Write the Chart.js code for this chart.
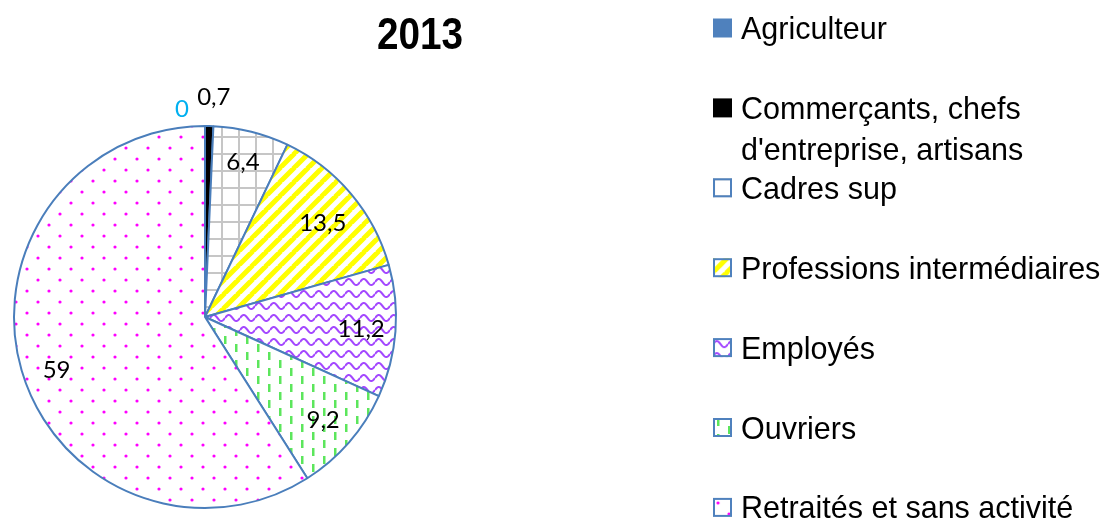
<!DOCTYPE html>
<html><head><meta charset="utf-8">
<script src="https://cdn.jsdelivr.net/npm/chart.js@4.4.0/dist/chart.umd.min.js"></script>
<style>html,body{margin:0;padding:0;background:#fff;}#wrap{width:1106px;height:521px;position:relative;}</style>
</head><body><div id="wrap"><canvas id="c" width="1106" height="521"></canvas></div>
<script>
const chartTitle = '2013';
const categories = ['Agriculteur', ['Commerçants, chefs', "d'entreprise, artisans"], 'Cadres sup', 'Professions intermédiaires', 'Employés', 'Ouvriers', 'Retraités et sans activité'];
const values = [0, 0.7, 6.4, 13.5, 11.2, 9.2, 59];

function tile(w, h, draw) {
  const c = document.createElement('canvas'); c.width = w; c.height = h;
  const x = c.getContext('2d'); x.fillStyle = '#fff'; x.fillRect(0, 0, w, h); draw(x, w, h); return c;
}
const tmp = document.createElement('canvas').getContext('2d');
const tiles = [
  null, null,
  tile(17, 17, (x) => { x.fillStyle = '#C6C6C6'; x.fillRect(0, 0, 2, 17); x.fillRect(0, 0, 17, 2); }),
  tile(14, 14, (x, P) => { x.strokeStyle = '#FFFF00'; x.lineWidth = 5; x.beginPath();
    for (const c of [0, P, 2 * P]) { x.moveTo(c + 1, -1); x.lineTo(c - P - 1, P + 1); } x.stroke(); }),
  tile(15, 12, (x, w) => { x.strokeStyle = '#A347FF'; x.lineWidth = 2; x.beginPath();
    for (let i = 0; i <= w; i += 0.5) { const y = 6 - 3 * Math.sin(2 * Math.PI * i / w); if (i === 0) x.moveTo(i, y); else x.lineTo(i, y); } x.stroke(); }),
  tile(22, 16, (x) => { x.fillStyle = '#5CE65C'; x.fillRect(4, 0, 2.5, 8); x.fillRect(15, 8, 2.5, 8); }),
  tile(22, 22, (x) => { x.fillStyle = '#FF00FF'; x.beginPath(); x.arc(5, 5, 1.6, 0, 7); x.arc(16, 16, 1.6, 0, 7); x.fill(); })
];
const solid = ['#4F81BD', '#000000'];
const fills = tiles.map((t, i) => t ? tmp.createPattern(t, 'repeat') : solid[i]);

const sliceLabels = {
  id: 'sliceLabels',
  afterDatasetsDraw(chart, args, o) {
    const ctx = chart.ctx, meta = chart.getDatasetMeta(0), data = chart.data.datasets[0].data;
    ctx.save(); ctx.font = o.font; ctx.textAlign = 'center'; ctx.textBaseline = 'middle';
    meta.data.forEach((arc, i) => {
      const v = data[i];
      const p = arc.getProps(['x', 'y', 'startAngle', 'endAngle', 'outerRadius'], true);
      const mid = (p.startAngle + p.endAngle) / 2;
      const r = p.outerRadius * (v < 1 ? o.outside : o.inside);
      let lx = p.x + Math.cos(mid) * r, ly = p.y + Math.sin(mid) * r;
      const n = o.nudge[i]; if (n) { lx += n[0]; ly += n[1]; }
      ctx.fillStyle = o.colors[i] || '#000';
      ctx.fillText(String(v).replace('.', ','), lx, ly);
    });
    ctx.restore();
  }
};

const deco = {
  id: 'deco',
  afterDraw(chart, args, o) {
    const ctx = chart.ctx;
    ctx.save();
    ctx.fillStyle = '#000'; ctx.textBaseline = 'alphabetic';
    ctx.font = o.titleFont; ctx.textAlign = 'center';
    ctx.translate(o.titleX, o.titleY); ctx.scale(o.titleScale, 1); ctx.fillText(chartTitle, 0, 0);
    ctx.restore();
    ctx.save();
    ctx.font = o.legendFont; ctx.textAlign = 'left'; ctx.textBaseline = 'alphabetic';
    chart.data.labels.forEach((lab, i) => {
      const base = o.legendTop + i * o.legendStep;
      const by = base - o.capHalf - o.box / 2;
      const fill = chart.data.datasets[0].backgroundColor[i];
      if (typeof fill === 'string') { ctx.fillStyle = fill; ctx.fillRect(o.boxX, by, o.box, o.box); }
      else {
        ctx.save(); ctx.translate(o.boxX, by); ctx.fillStyle = fill; ctx.fillRect(0, 0, o.box, o.box); ctx.restore();
        ctx.strokeStyle = '#4F81BD'; ctx.lineWidth = 2; ctx.strokeRect(o.boxX + 1, by + 1, o.box - 2, o.box - 2);
      }
      ctx.fillStyle = '#000';
      const lines = Array.isArray(lab) ? lab : [lab];
      lines.forEach((t, k) => ctx.fillText(t, o.textX, base + k * o.lineH));
    });
    ctx.restore();
  }
};

new Chart(document.getElementById('c'), {
  type: 'pie',
  data: { labels: categories, datasets: [{ data: values, backgroundColor: fills, borderColor: '#4A7EBB', borderWidth: 2 }] },
  options: {
    responsive: false, animation: false, devicePixelRatio: 1,
    layout: { padding: { left: 13, right: 709, top: 125, bottom: 12 } },
    plugins: {
      legend: { display: false }, tooltip: { enabled: false }, title: { display: false },
      sliceLabels: { font: '24px Lato, "Open Sans", sans-serif', inside: 0.82, outside: 1.15,
        nudge: { 0: [-23, 12], 1: [4, 0], 2: [0, -3], 3: [-2, 7], 6: [2, 10] }, colors: { 0: '#00B0F0' } },
      deco: { titleFont: 'bold 45px "Liberation Sans", Arial, sans-serif', titleX: 420, titleY: 49, titleScale: 0.86,
        legendFont: '30.5px "Liberation Sans", Arial, sans-serif', legendTop: 39, legendStep: 79.9, lineH: 41,
        capHalf: 11, box: 19, boxX: 713, textX: 741 }
    }
  },
  plugins: [sliceLabels, deco]
});
</script></body></html>
